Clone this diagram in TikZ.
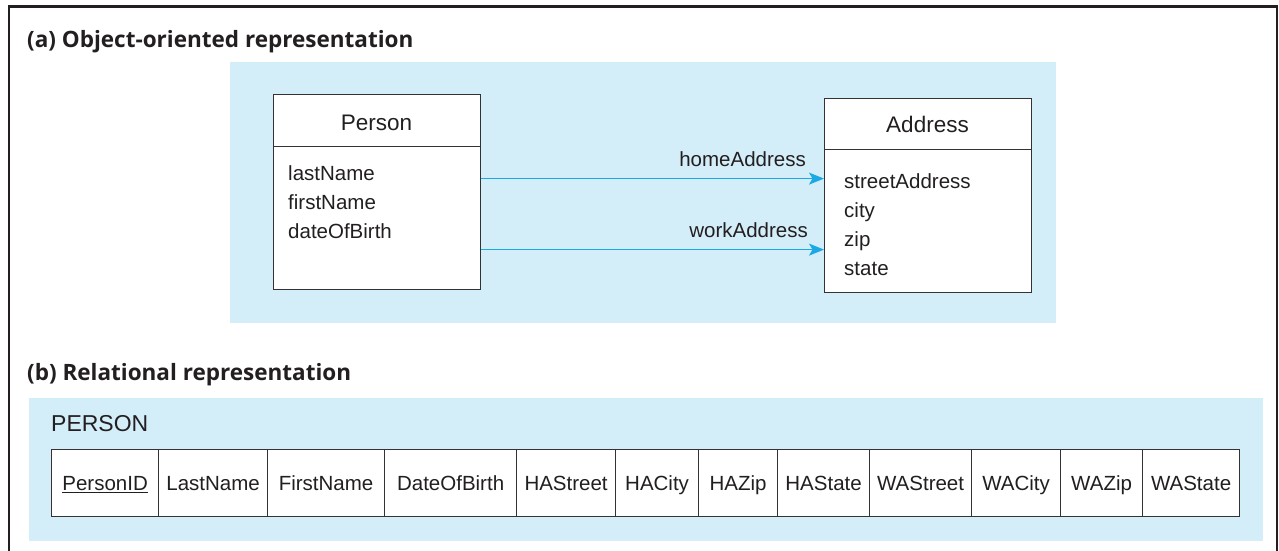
\documentclass[tikz,border=0pt]{standalone}
\usepackage{fontspec}
\setmainfont{Liberation Sans}
\newfontfamily\titlefont{Open Sans}
\usetikzlibrary{arrows.meta}
\definecolor{bluebg}{HTML}{D3EDF9}
\definecolor{arrowc}{HTML}{1BA9E6}
\definecolor{ink}{HTML}{231F20}
\definecolor{boxline}{HTML}{333333}
\tikzset{
  panel/.style={fill=bluebg, draw=none},
  umlbox/.style={draw=boxline, line width=1.2pt, fill=white, inner sep=0pt, anchor=north west},
  cell/.style={draw=boxline, line width=1.2pt, fill=white, inner sep=0pt, anchor=north west, minimum height=67pt, text height=18pt, text depth=3pt, text=ink, font=\fontsize{20.5}{24}\selectfont},
  txt/.style={text=ink, font=\fontsize{20.5}{24}\selectfont, inner sep=0pt},
  hdr/.style={text=ink, font=\fontsize{22.5}{26}\selectfont, inner sep=0pt, anchor=base},
  ttl/.style={text=ink, font=\titlefont\bfseries\fontsize{22.5}{26}\selectfont, inner sep=0pt, anchor=base west},
  arr/.style={draw=arrowc, line width=1.5pt, -{Stealth[length=15pt, width=12pt, inset=3.5pt]}},
  frame/.style={draw=ink, line width=2.6pt}
}
\begin{document}
\begin{tikzpicture}[x=1pt, y=-1pt]
\useasboundingbox (0,0) rectangle (1279,550);
\fill[white] (0,0) rectangle (1279,550);
% outer frame (open at bottom)
\draw[frame] (9,552) -- (9,6.5) -- (1277,6.5) -- (1277,552);

% titles
\node[ttl] (ta) at (27,47) {(a) Object-oriented representation};
\node[ttl] (tb) at (27,380) {(b) Relational representation};

% panels
\path[panel] (230,62) rectangle (1056,323);
\path[panel] (29,398) rectangle (1263,541);

% Person class
\node[umlbox, minimum width=207pt, minimum height=52pt] (ph) at (273,94) {};
\node[hdr] (phl) at (376.5,130) {Person};
\node[umlbox, minimum width=207pt, minimum height=143pt] (pb) at (273,146) {};
\node[txt, anchor=base west] (p1) at (288,180) {lastName};
\node[txt, anchor=base west] (p2) at (288,209) {firstName};
\node[txt, anchor=base west] (p3) at (288,238) {dateOfBirth};

% Address class
\node[umlbox, minimum width=207pt, minimum height=51pt] (ah) at (824,98) {};
\node[hdr] (ahl) at (927.5,132) {Address};
\node[umlbox, minimum width=207pt, minimum height=143pt] (ab) at (824,149) {};
\node[txt, anchor=base west] (a1) at (844,188) {streetAddress};
\node[txt, anchor=base west] (a2) at (844,217) {city};
\node[txt, anchor=base west] (a3) at (844,246) {zip};
\node[txt, anchor=base west] (a4) at (844,275) {state};

% associations
\path ([yshift=39.5pt]pb.east) coordinate (h1);
\path ([yshift=-31.5pt]pb.east) coordinate (h2);
\draw[arr] (h1) -- (h1 -| ab.west);
\draw[arr] (h2) -- (h2 -| ab.west);
\node[txt, anchor=base east] (lh) at (806,166) {homeAddress};
\node[txt, anchor=base east] (lw) at (808,237) {workAddress};

% relational table
\node[text=ink, font=\fontsize{23}{27}\selectfont, inner sep=0pt, anchor=base west] (rel) at (51,431) {PERSON};
\node[cell, minimum width=107pt] (c1) at (51,449) {\underline{PersonID}};
\node[cell, minimum width=109pt] (c2) at (158,449) {LastName};
\node[cell, minimum width=117pt] (c3) at (267,449) {FirstName};
\node[cell, minimum width=132pt] (c4) at (384,449) {DateOfBirth};
\node[cell, minimum width=99pt] (c5) at (516,449) {HAStreet};
\node[cell, minimum width=83pt] (c6) at (615,449) {HACity};
\node[cell, minimum width=79pt] (c7) at (698,449) {HAZip};
\node[cell, minimum width=92pt] (c8) at (777,449) {HAState};
\node[cell, minimum width=102pt] (c9) at (869,449) {WAStreet};
\node[cell, minimum width=89pt] (c10) at (971,449) {WACity};
\node[cell, minimum width=82pt] (c11) at (1060,449) {WAZip};
\node[cell, minimum width=97pt] (c12) at (1142,449) {WAState};
\end{tikzpicture}
\end{document}
